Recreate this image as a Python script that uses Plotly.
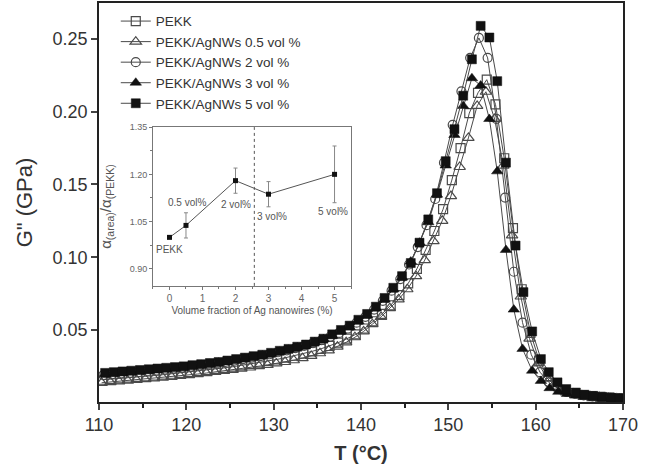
import plotly.graph_objects as go

# ---------------- main data ----------------
T_pekk = [110.4,111.4,112.4,113.4,114.4,115.4,116.4,117.4,118.4,119.4,120.4,121.4,122.4,123.4,124.4,125.4,126.4,127.4,128.4,129.4,
          130.4,131.4,132.4,133.4,134.4,135.4,136.4,137.4,138.4,139.4,140.4,141.4,142.4,143.4,144.4,145.4,146.4,147.4,148.4,149.4,
          150.4,151.4,152.4,153.4,154.4,155.4,156.4,157.4,158.4,159.4,160.4,161.4,162.4,163.4,164.4,165.4,166.4,167.4,168.4,169.4]
G_pekk = [0.0158,0.0162,0.0167,0.0172,0.0177,0.0182,0.0187,0.0193,0.0199,0.0205,0.0211,0.0218,0.0225,0.0232,0.0240,0.0248,0.0257,0.0266,0.0276,0.0287,
          0.0298,0.0310,0.0323,0.0337,0.0353,0.0370,0.0390,0.0413,0.0440,0.0470,0.0510,0.0560,0.0610,0.0670,0.0740,0.0820,0.0920,0.1050,0.1180,0.1330,
          0.1530,0.1750,0.1990,0.2130,0.2220,0.2050,0.1680,0.1200,0.0780,0.0480,0.0290,0.0180,0.0120,0.0085,0.0065,0.0053,0.0045,0.0040,0.0035,0.0032]

T_05 = [110.3,111.3,112.3,113.3,114.3,115.3,116.3,117.3,118.3,119.3,120.3,121.3,122.3,123.3,124.3,125.3,126.3,127.3,128.3,129.3,
        130.3,131.3,132.3,133.3,134.3,135.3,136.3,137.3,138.3,139.3,140.3,141.3,142.3,143.3,144.3,145.3,146.3,147.3,148.3,149.3,
        150.3,151.3,152.3,153.3,154.3,155.3,156.3,157.3,158.3,159.3,160.3,161.3,162.3,163.3,164.3,165.3,166.3,167.3,168.3,169.3]
G_05 = [0.0137,0.0142,0.0147,0.0152,0.0157,0.0162,0.0167,0.0172,0.0178,0.0184,0.0190,0.0197,0.0204,0.0211,0.0218,0.0226,0.0234,0.0242,0.0251,0.0260,
        0.0270,0.0280,0.0292,0.0306,0.0322,0.0340,0.0360,0.0385,0.0415,0.0450,0.0490,0.0540,0.0590,0.0650,0.0710,0.0780,0.0870,0.0980,0.1110,0.1250,
        0.1420,0.1620,0.1820,0.2040,0.2137,0.1950,0.1630,0.1150,0.0730,0.0440,0.0270,0.0170,0.0110,0.0080,0.0062,0.0050,0.0043,0.0037,0.0033,0.0030]

T_2 = [110.5,111.5,112.5,113.5,114.5,115.5,116.5,117.5,118.5,119.5,120.5,121.5,122.5,123.5,124.5,125.5,126.5,127.5,128.5,129.5,
       130.5,131.5,132.5,133.5,134.5,135.5,136.5,137.5,138.5,139.5,140.5,141.5,142.5,143.5,144.5,145.5,146.5,147.5,148.5,149.5,
       150.5,151.5,152.5,153.5,154.5,155.5,156.5,157.5,158.5,159.5,160.5,161.5,162.5,163.5,164.5,165.5,166.5,167.5,168.5,169.5]
G_2 = [0.0190,0.0195,0.0200,0.0205,0.0210,0.0215,0.0220,0.0227,0.0234,0.0240,0.0247,0.0255,0.0263,0.0270,0.0280,0.0290,0.0300,0.0310,0.0320,0.0333,
       0.0347,0.0360,0.0375,0.0390,0.0410,0.0430,0.0455,0.0480,0.0510,0.0550,0.0590,0.0640,0.0700,0.0770,0.0850,0.0950,0.1070,0.1220,0.1400,0.1650,
       0.1910,0.2140,0.2370,0.2507,0.2370,0.1950,0.1410,0.0900,0.0550,0.0330,0.0210,0.0140,0.0100,0.0075,0.0060,0.0050,0.0043,0.0037,0.0033,0.0030]

T_3 = [110.7,111.7,112.7,113.7,114.7,115.7,116.7,117.7,118.7,119.7,120.7,121.7,122.7,123.7,124.7,125.7,126.7,127.7,128.7,129.7,
       130.7,131.7,132.7,133.7,134.7,135.7,136.7,137.7,138.7,139.7,140.7,141.7,142.7,143.7,144.7,145.7,146.7,147.7,148.7,149.7,
       150.7,151.7,152.7,153.7,154.7,155.6,156.6,157.5,158.5,159.6,160.6,161.6,162.6,163.6,164.6,165.6,166.6,167.6,168.6,169.6]
G_3 = [0.0195,0.0200,0.0205,0.0210,0.0215,0.0220,0.0226,0.0232,0.0238,0.0245,0.0252,0.0260,0.0267,0.0275,0.0284,0.0293,0.0303,0.0313,0.0324,0.0336,
       0.0350,0.0364,0.0380,0.0397,0.0416,0.0437,0.0460,0.0490,0.0520,0.0560,0.0600,0.0650,0.0710,0.0780,0.0860,0.0970,0.1100,0.1240,0.1430,0.1630,
       0.1840,0.2040,0.2230,0.2180,0.1950,0.1590,0.1050,0.0640,0.0370,0.0220,0.0150,0.0100,0.0075,0.0060,0.0050,0.0043,0.0037,0.0033,0.0030,0.0027]

T_5 = [110.7,111.7,112.7,113.7,114.7,115.7,116.7,117.7,118.7,119.7,120.7,121.7,122.7,123.7,124.7,125.7,126.7,127.7,128.7,129.7,
       130.7,131.7,132.7,133.7,134.7,135.7,136.7,137.7,138.7,139.7,140.7,141.7,142.7,143.7,144.7,145.7,146.7,147.7,148.7,149.7,
       150.7,151.7,152.7,153.7,154.7,155.6,156.6,157.7,158.6,159.6,160.6,161.5,162.5,163.5,164.6,165.6,166.6,167.6,168.6,169.6]
G_5 = [0.0205,0.0210,0.0215,0.0220,0.0225,0.0230,0.0235,0.0240,0.0245,0.0250,0.0258,0.0265,0.0273,0.0280,0.0290,0.0300,0.0310,0.0320,0.0330,0.0343,
       0.0357,0.0370,0.0385,0.0400,0.0420,0.0440,0.0470,0.0500,0.0530,0.0570,0.0610,0.0660,0.0720,0.0790,0.0870,0.0960,0.1100,0.1260,0.1440,0.1660,
       0.1880,0.2110,0.2360,0.2590,0.2510,0.2210,0.1650,0.1080,0.0760,0.0490,0.0300,0.0210,0.0140,0.0094,0.0070,0.0055,0.0047,0.0040,0.0035,0.0030]

series_names = ["PEKK", "PEKK/AgNWs 0.5 vol %", "PEKK/AgNWs 2 vol %", "PEKK/AgNWs 3 vol %", "PEKK/AgNWs 5 vol %"]

# ---------------- inset data ----------------
vol_frac = [0, 0.5, 2, 3, 5]
alpha_ratio = [1.00, 1.038, 1.18, 1.137, 1.20]
alpha_err = [0.0, 0.04, 0.04, 0.04, 0.09]
inset_labels = ["PEKK", "0.5 vol%", "2 vol%", "3 vol%", "5 vol%"]
label_x = [0.0, 0.52, 2.0, 3.12, 4.94]
label_y = [0.962, 1.112, 1.104, 1.066, 1.083]
percolation_x = 2.57

x_ticks = [110, 120, 130, 140, 150, 160, 170]
y_ticks = [0.05, 0.10, 0.15, 0.20, 0.25]

LINE = "#4a4a4a"
styles = [
    dict(symbol="square-open", color=LINE, size=9),
    dict(symbol="triangle-up-open", color=LINE, size=10),
    dict(symbol="circle-open", color=LINE, size=9),
    dict(symbol="triangle-up", color="#111111", size=10),
    dict(symbol="square", color="#111111", size=9),
]
data = [(T_pekk, G_pekk), (T_05, G_05), (T_2, G_2), (T_3, G_3), (T_5, G_5)]

FONT = "Liberation Sans, Arial"

fig = go.Figure()
for i, ((tx, gy), name, st) in enumerate(zip(data, series_names, styles)):
    open_m = "open" in st["symbol"]
    fig.add_trace(go.Scatter(
        x=tx, y=gy, name=name, mode="lines+markers", legendgroup=f"g{i}",
        line=dict(color=LINE, width=1),
        marker=dict(symbol=st["symbol"], size=st["size"], color=st["color"],
                    line=dict(color=st["color"], width=1.2 if open_m else 0.5)),
        xaxis="x", yaxis="y",
    ))

# inset
fig.add_trace(go.Scatter(
    x=vol_frac, y=alpha_ratio, mode="lines+markers", showlegend=False,
    line=dict(color="#555555", width=1),
    marker=dict(symbol="square", size=5, color="#111111"),
    error_y=dict(type="data", array=alpha_err, color="#888888", thickness=1, width=2),
    xaxis="x2", yaxis="y2",
))

for lx, ly, lt in zip(label_x, label_y, inset_labels):
    fig.add_annotation(x=lx, y=ly, xref="x2", yref="y2", text=lt, showarrow=False,
                       font=dict(family=FONT, size=10, color="#555555"))

fig.add_shape(type="line", xref="x2", yref="y2 domain", x0=percolation_x, x1=percolation_x,
              y0=0, y1=1, line=dict(color="#555555", width=1, dash="dot"))

# inset y title (rotated)
fig.add_annotation(x=0.014, y=0.49, xref="paper", yref="paper", xanchor="center",
                   text="α<sub>(area)</sub>/α<sub>(PEKK)</sub>", textangle=-90, showarrow=False,
                   font=dict(family=FONT, size=15, color="#555555"))

axis_font = dict(family=FONT, size=18, color="#333333")

fig.update_layout(
    width=662, height=474,
    margin=dict(l=99, r=39, t=3, b=72, autoexpand=False),
    paper_bgcolor="white", plot_bgcolor="white",
    showlegend=True,
    legend=dict(x=0.032, y=0.993, xanchor="left", yanchor="top",
                bgcolor="rgba(0,0,0,0)", font=dict(family=FONT, size=13.5, color="#333333"),
                tracegroupgap=0, itemwidth=30),
    xaxis=dict(range=[110, 170], tickvals=x_ticks, ticks="outside", ticklen=6, tickwidth=1.5,
               showline=True, linecolor="#222222", linewidth=1.5, mirror=True, showgrid=False, zeroline=False,
               tickfont=axis_font, automargin=False,
               minor=dict(ticks="outside", dtick=5, ticklen=4, tickwidth=1.5, tickcolor="#222222", showgrid=False),
               title=dict(text="<b>T (°C)</b>", font=dict(family=FONT, size=20, color="#333333"), standoff=12)),
    yaxis=dict(range=[0.0005, 0.2747], tickvals=y_ticks, ticktext=["0.05", "0.10", "0.15", "0.20", "0.25"],
               ticks="outside", ticklen=6, tickwidth=1.5, automargin=False,
               showline=True, linecolor="#222222", linewidth=1.5, mirror=True, showgrid=False, zeroline=False,
               tickfont=axis_font,
               title=dict(text='G" (GPa)', font=dict(family=FONT, size=22, color="#333333"), standoff=14)),
    xaxis2=dict(domain=[0.103, 0.481], anchor="y2", range=[-0.5, 5.5], tickvals=[0, 1, 2, 3, 4, 5],
                ticks="outside", ticklen=3, tickcolor="#777777", showline=True, linecolor="#777777", linewidth=1, mirror=True,
                showgrid=False, zeroline=False, tickfont=dict(family=FONT, size=10, color="#666666"), automargin=False,
                minor=dict(ticks="outside", dtick=0.5, ticklen=2, tickcolor="#777777"),
                title=dict(text="Volume fraction of Ag nanowires (%)", standoff=4,
                           font=dict(family=FONT, size=10, color="#555555"))),
    yaxis2=dict(domain=[0.291, 0.689], anchor="x2", range=[0.846, 1.35], tickvals=[0.90, 1.05, 1.20, 1.35],
                ticktext=["0.90", "1.05", "1.20", "1.35"], automargin=False,
                ticks="outside", ticklen=3, tickcolor="#777777", showline=True, linecolor="#777777", linewidth=1, mirror=True,
                showgrid=False, zeroline=False, tickfont=dict(family=FONT, size=9, color="#666666"),
                minor=dict(ticks="outside", dtick=0.075, ticklen=2, tickcolor="#777777")),
)

fig.write_html("out.html", config={"displayModeBar": False},
               post_script="document.body.style.margin='0px';")
